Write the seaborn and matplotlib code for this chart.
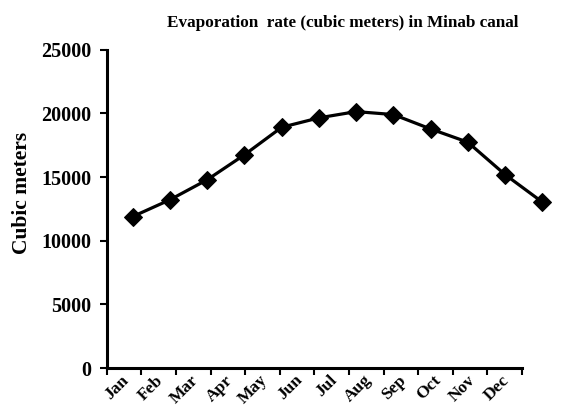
import numpy as np
import pandas as pd
import seaborn as sns
import matplotlib.pyplot as plt

# data
months = ['Jan', 'Feb', 'Mar', 'Apr', 'May', 'Jun', 'Jul', 'Aug', 'Sep', 'Oct', 'Nov', 'Dec']
evaporation = [11900, 13220, 14790, 16750, 18910, 19650, 20140, 19910, 18780, 17740, 15200, 13040]
y_ticks = [0, 5000, 10000, 15000, 20000, 25000]

df = pd.DataFrame({'idx': np.arange(len(months)), 'month': months, 'value': evaporation})

sns.set_style('white')
plt.rcParams['font.family'] = ['Liberation Serif', 'DejaVu Serif']
plt.rcParams['font.weight'] = 'bold'
plt.rcParams['text.color'] = 'black'
plt.rcParams['axes.labelcolor'] = 'black'
plt.rcParams['xtick.color'] = 'black'
plt.rcParams['ytick.color'] = 'black'

fig = plt.figure(figsize=(5.62, 4.18), dpi=100)
ax = fig.add_axes([0.190, 0.1196, 0.739, 0.7614])

sns.lineplot(x='idx', y='value', data=df, ax=ax, color='black', linewidth=2.3,
             marker='D', markersize=9, markeredgecolor='black', clip_on=False)

# the category axis in the source is a bit narrower than the line
x_left, x_right = -0.70, 10.46
ax.set_xlim(x_left, x_right)
edges = np.linspace(x_left, x_right, len(months) + 1)
ax.set_xticks(edges)
ax.set_xticklabels([])
# labels sit slightly right of the category centres
label_pos = (edges[:-1] + edges[1:]) / 2 + 0.22
ax.set_xticks(label_pos, minor=True)
ax.set_xticklabels(months, minor=True, rotation=45, ha='right', va='top',
                   fontsize=12.5, fontweight='bold')
ax.tick_params(axis='x', which='minor', length=0, pad=3)
ax.tick_params(axis='x', which='major', direction='out', length=5, width=1.5,
               color='black', bottom=True)

ax.set_ylim(0, 25000)
ax.set_yticks(y_ticks)
ax.set_yticklabels([str(v) for v in y_ticks], fontsize=14.5, fontweight='bold')
ax.tick_params(axis='y', direction='out', length=5, width=1.5, color='black',
               left=True, pad=6)

for side in ['top', 'right']:
    ax.spines[side].set_visible(False)
for side in ['left', 'bottom']:
    ax.spines[side].set_linewidth(2.2)
    ax.spines[side].set_color('black')

ax.set_xlabel('')
ax.set_ylabel('Cubic meters', fontsize=15.5, fontweight='bold')
ax.yaxis.set_label_coords(-0.18, 0.55)
fig.text(0.922, 0.945, 'Evaporation  rate (cubic meters) in Minab canal',
         ha='right', va='center', fontsize=12.3, fontweight='bold')

fig.savefig('out.png', dpi=100)
